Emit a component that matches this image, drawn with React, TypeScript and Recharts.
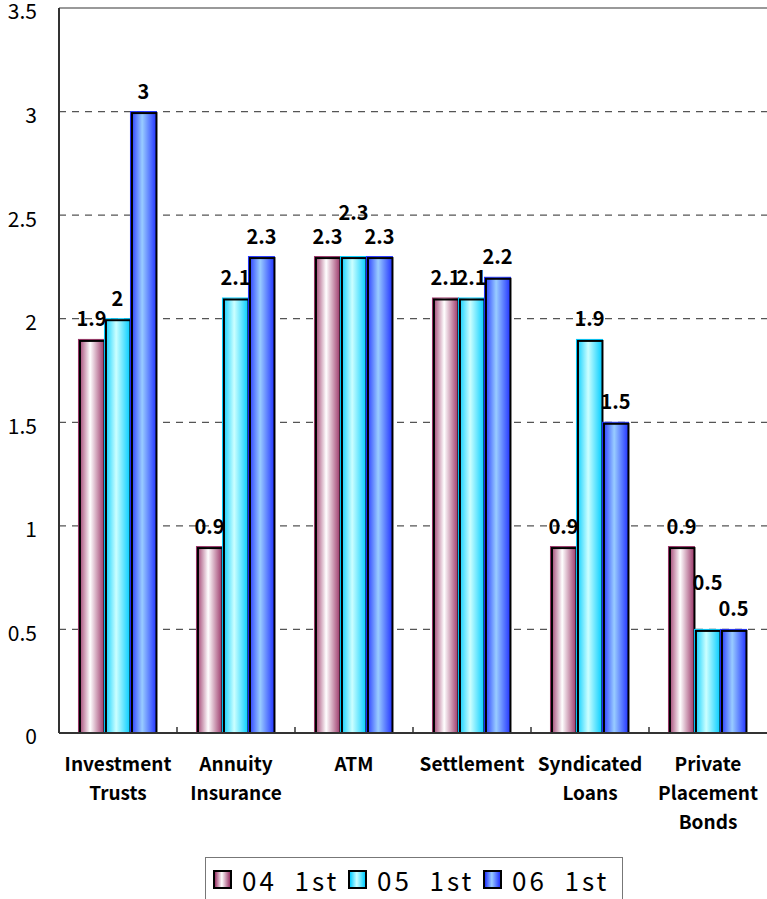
import {
  BarChart,
  Bar,
  XAxis,
  YAxis,
  CartesianGrid,
  ReferenceLine,
  LabelList,
  Legend,
} from 'recharts'

const categories = [
  'Investment\nTrusts',
  'Annuity\nInsurance',
  'ATM',
  'Settlement',
  'Syndicated\nLoans',
  'Private\nPlacement\nBonds',
]
const s04 = [1.9, 0.9, 2.3, 2.1, 0.9, 0.9]
const s05 = [2, 2.1, 2.3, 2.1, 1.9, 0.5]
const s06 = [3, 2.3, 2.3, 2.2, 1.5, 0.5]
const seriesNames = ['04  1st', '05  1st', '06  1st']
const yTicks = [0, 0.5, 1, 1.5, 2, 2.5, 3, 3.5]

const data = categories.map((name, i) => ({ name, s04: s04[i], s05: s05[i], s06: s06[i] }))

const FONT = '"Noto Sans CJK JP", "Noto Sans", sans-serif'

const series = [
  { key: 's04', edge: '#993366', light: '#ffffff', grad: 'g04' },
  { key: 's05', edge: '#00ccff', light: '#ccffff', grad: 'g05' },
  { key: 's06', edge: '#2233ff', light: '#99ccff', grad: 'g06' },
]

// labels Excel pushed up to avoid overlapping neighbours (series index -> category index -> lift px)
const labelLift: Record<number, Record<number, number>> = {
  1: { 2: 24, 5: 26 },
}

function GradBar(props: any) {
  const { x, y, width, height, grad, edge } = props
  if (!height || height <= 0) return null
  return (
    <g>
      <rect x={x} y={y} width={width} height={height} fill={`url(#${grad})`} stroke={edge} strokeWidth={1} />
      <rect x={x + 1.5} y={y + 1.5} width={width - 1.5} height={height - 1.5} fill="none" stroke="#000" strokeWidth={2} />
    </g>
  )
}

const makeLabel = (si: number) => (props: any) => {
  const { x, y, width, value, index } = props
  const lift = labelLift[si]?.[index] ?? 0
  return (
    <text
      x={x + width / 2}
      y={y - 13 - lift}
      textAnchor="middle"
      fontFamily={FONT}
      fontWeight="bold"
      fontSize={20}
      fill="#000"
    >
      {value}
    </text>
  )
}

function CategoryTick(props: any) {
  const { x, y, payload } = props
  const half = payload.offset ?? 59
  const lines = String(payload.value).split('\n')
  return (
    <g>
      <line x1={x - half} x2={x - half} y1={y} y2={y - 6} stroke="#333" strokeWidth={1.5} />
      {lines.map((ln, i) => (
        <text
          key={i}
          x={x}
          y={y + 38 + i * 29}
          textAnchor="middle"
          fontFamily={FONT}
          fontWeight="bold"
          fontSize={19}
          fill="#000"
        >
          {ln}
        </text>
      ))}
    </g>
  )
}

function LegendBox() {
  return (
    <div
      style={{
        display: 'flex',
        alignItems: 'center',
        border: '1.5px solid #777',
        borderBottom: 'none',
        height: 44,
        boxSizing: 'border-box',
        padding: '0 0 0 7px',
        fontFamily: FONT,
        fontSize: 26,
        color: '#000',
        background: '#fff',
      }}
    >
      {series.map((s, i) => (
        <div key={s.key} style={{ display: 'flex', alignItems: 'center', width: 135 }}>
          <span
            style={{
              display: 'inline-block',
              width: 15,
              height: 15,
              border: '2px solid #000',
              background: `linear-gradient(to right, ${s.edge}, ${s.light} 45%, ${s.edge})`,
              marginRight: 10,
            }}
          />
          <span style={{ whiteSpace: 'pre', letterSpacing: 3 }}>{seriesNames[i]}</span>
        </div>
      ))}
    </div>
  )
}

export default function App() {
  return (
    <div style={{ position: 'absolute', left: 0, top: 0, width: 767, height: 899, background: '#fff' }}>
      <BarChart
        width={767}
        height={899}
        data={data}
        margin={{ top: 8, right: 0, left: 0, bottom: 136 }}
        barGap={0}
        barCategoryGap="16.5%"
      >
        <defs>
          {series.map((s) => (
            <linearGradient key={s.grad} id={s.grad} x1="0" y1="0" x2="1" y2="0">
              <stop offset="0%" stopColor={s.edge} />
              <stop offset="45%" stopColor={s.light} />
              <stop offset="100%" stopColor={s.edge} />
            </linearGradient>
          ))}
        </defs>
        <CartesianGrid vertical={false} strokeDasharray="7 6" stroke="#555" strokeWidth={1.2} />
        <ReferenceLine y={3.5} stroke="#999" strokeWidth={2} />
        <XAxis
          dataKey="name"
          interval={0}
          height={30}
          tickLine={false}
          tickSize={0}
          tickMargin={0}
          axisLine={{ stroke: '#333', strokeWidth: 2 }}
          tick={<CategoryTick />}
        />
        <YAxis
          width={59}
          domain={[0, 3.5]}
          ticks={yTicks}
          interval={0}
          tickLine={false}
          tickSize={0}
          tickMargin={22}
          axisLine={{ stroke: '#333', strokeWidth: 2 }}
          tick={{ fontFamily: FONT, fontSize: 21, fill: '#000', dy: 4 }}
        />
        <Legend
          layout="vertical"
          align="center"
          verticalAlign="middle"
          wrapperStyle={{ left: 205, top: 857, width: 418, height: 44 }}
          content={() => <LegendBox />}
        />
        {series.map((s, si) => (
          <Bar
            key={s.key}
            dataKey={s.key}
            name={seriesNames[si]}
            isAnimationActive={false}
            shape={(p: any) => <GradBar {...p} grad={s.grad} edge={s.edge} />}
          >
            <LabelList dataKey={s.key} content={makeLabel(si)} />
          </Bar>
        ))}
      </BarChart>
    </div>
  )
}
